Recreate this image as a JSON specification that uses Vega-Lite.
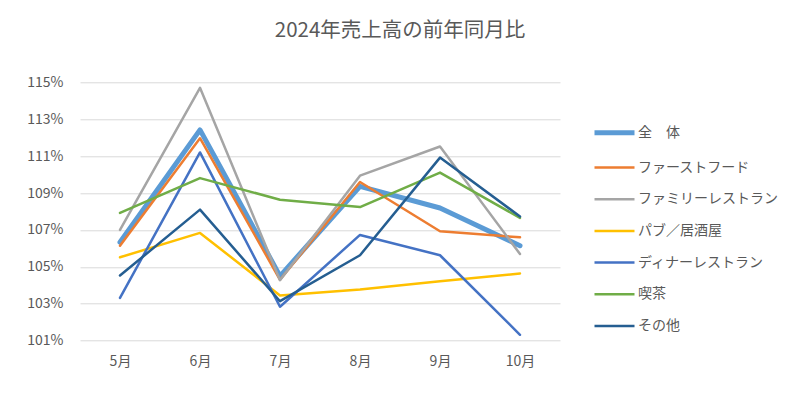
{
  "$schema": "https://vega.github.io/schema/vega-lite/v6.json",
  "autosize": "none",
  "width": 480,
  "height": 258.4,
  "padding": {"left": 80, "top": 82.3, "right": 240, "bottom": 75.3},
  "background": "white",
  "title": {
    "text": "2024年売上高の前年同月比",
    "anchor": "middle",
    "frame": "group",
    "dx": 80,
    "offset": 34,
    "font": "Noto Sans CJK JP",
    "fontSize": 20.5,
    "fontWeight": "normal",
    "color": "#595959"
  },
  "config": {
    "view": {"stroke": null},
    "font": "Noto Sans CJK JP"
  },
  "data": {
    "values": [
      {"month": "5月", "series": "全　体", "v": 106.33},
      {"month": "6月", "series": "全　体", "v": 112.42},
      {"month": "7月", "series": "全　体", "v": 104.5},
      {"month": "8月", "series": "全　体", "v": 109.36},
      {"month": "9月", "series": "全　体", "v": 108.19},
      {"month": "10月", "series": "全　体", "v": 106.15},
      {"month": "5月", "series": "ファーストフード", "v": 106.15},
      {"month": "6月", "series": "ファーストフード", "v": 111.97},
      {"month": "7月", "series": "ファーストフード", "v": 104.3},
      {"month": "8月", "series": "ファーストフード", "v": 109.6},
      {"month": "9月", "series": "ファーストフード", "v": 106.93},
      {"month": "10月", "series": "ファーストフード", "v": 106.6},
      {"month": "5月", "series": "ファミリーレストラン", "v": 107.0},
      {"month": "6月", "series": "ファミリーレストラン", "v": 114.7},
      {"month": "7月", "series": "ファミリーレストラン", "v": 104.28},
      {"month": "8月", "series": "ファミリーレストラン", "v": 109.94},
      {"month": "9月", "series": "ファミリーレストラン", "v": 111.52},
      {"month": "10月", "series": "ファミリーレストラン", "v": 105.7},
      {"month": "5月", "series": "パブ／居酒屋", "v": 105.52},
      {"month": "6月", "series": "パブ／居酒屋", "v": 106.84},
      {"month": "7月", "series": "パブ／居酒屋", "v": 103.45},
      {"month": "8月", "series": "パブ／居酒屋", "v": 103.77},
      {"month": "9月", "series": "パブ／居酒屋", "v": 104.22},
      {"month": "10月", "series": "パブ／居酒屋", "v": 104.64},
      {"month": "5月", "series": "ディナーレストラン", "v": 103.32},
      {"month": "6月", "series": "ディナーレストラン", "v": 111.2},
      {"month": "7月", "series": "ディナーレストラン", "v": 102.84},
      {"month": "8月", "series": "ディナーレストラン", "v": 106.73},
      {"month": "9月", "series": "ディナーレストラン", "v": 105.63},
      {"month": "10月", "series": "ディナーレストラン", "v": 101.32},
      {"month": "5月", "series": "喫茶", "v": 107.92},
      {"month": "6月", "series": "喫茶", "v": 109.81},
      {"month": "7月", "series": "喫茶", "v": 108.64},
      {"month": "8月", "series": "喫茶", "v": 108.24},
      {"month": "9月", "series": "喫茶", "v": 110.11},
      {"month": "10月", "series": "喫茶", "v": 107.65},
      {"month": "5月", "series": "その他", "v": 104.53},
      {"month": "6月", "series": "その他", "v": 108.1},
      {"month": "7月", "series": "その他", "v": 103.14},
      {"month": "8月", "series": "その他", "v": 105.63},
      {"month": "9月", "series": "その他", "v": 110.92},
      {"month": "10月", "series": "その他", "v": 107.73}
    ]
  },
  "mark": {"type": "line", "strokeJoin": "round", "strokeCap": "round"},
  "encoding": {
    "x": {
      "field": "month",
      "type": "ordinal",
      "sort": ["5月", "6月", "7月", "8月", "9月", "10月"],
      "scale": {"type": "point", "padding": 0.5},
      "axis": {
        "title": null,
        "domain": false,
        "ticks": false,
        "grid": false,
        "labelAngle": 0,
        "labelPadding": 14,
        "labelFontSize": 14,
        "labelColor": "#595959",
        "labelFont": "Noto Sans CJK JP"
      }
    },
    "y": {
      "field": "v",
      "type": "quantitative",
      "scale": {"domain": [101, 115], "nice": false, "zero": false},
      "axis": {
        "title": null,
        "values": [101, 103, 105, 107, 109, 111, 113, 115],
        "labelExpr": "datum.value + '%'",
        "domain": false,
        "ticks": false,
        "grid": true,
        "gridColor": "#D9D9D9",
        "gridWidth": 1,
        "labelPadding": 17,
        "labelFontSize": 14,
        "labelColor": "#595959",
        "labelFont": "Noto Sans CJK JP"
      }
    },
    "color": {
      "field": "series",
      "type": "nominal",
      "sort": null,
      "scale": {
        "domain": ["全　体", "ファーストフード", "ファミリーレストラン", "パブ／居酒屋", "ディナーレストラン", "喫茶", "その他"],
        "range": ["#5B9BD5", "#ED7D31", "#A5A5A5", "#FFC000", "#4472C4", "#70AD47", "#255E91"]
      },
      "legend": {
        "title": null,
        "orient": "none",
        "legendX": 522,
        "legendY": 38,
        "padding": 0,
        "symbolType": "M-2,0H2",
        "symbolSize": 400,
        "rowPadding": 12.7,
        "labelOffset": 11,
        "labelFontSize": 14,
        "labelColor": "#595959",
        "labelFont": "Noto Sans CJK JP",
        "labelLimit": 300
      }
    },
    "strokeWidth": {
      "field": "series",
      "type": "nominal",
      "sort": null,
      "scale": {
        "type": "ordinal",
        "domain": ["全　体", "ファーストフード", "ファミリーレストラン", "パブ／居酒屋", "ディナーレストラン", "喫茶", "その他"],
        "range": [5, 2.5, 2.5, 2.5, 2.5, 2.5, 2.5]
      },
      "legend": {
        "title": null,
        "orient": "none",
        "legendX": 522,
        "legendY": 38,
        "padding": 0,
        "symbolType": "M-2,0H2",
        "symbolSize": 400,
        "rowPadding": 12.7,
        "labelOffset": 11,
        "labelFontSize": 14,
        "labelColor": "#595959",
        "labelFont": "Noto Sans CJK JP",
        "labelLimit": 300
      }
    }
  }
}
